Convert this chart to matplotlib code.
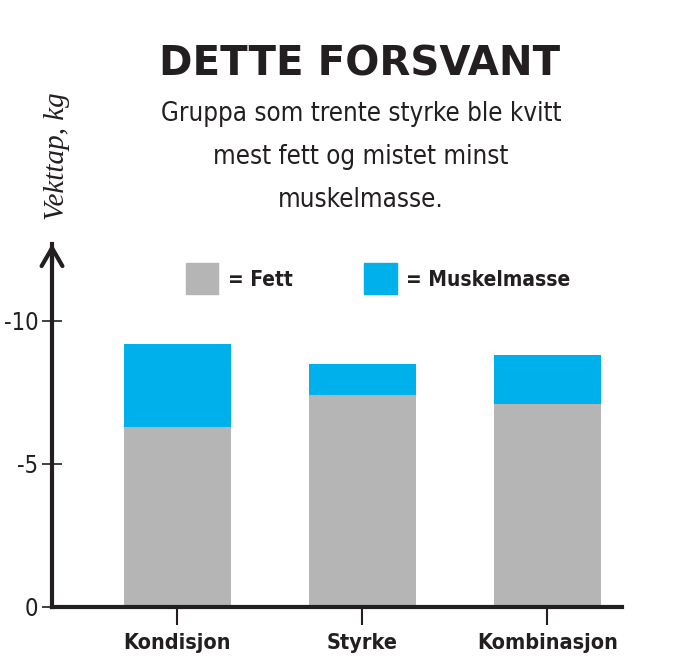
import matplotlib
matplotlib.use('Agg')
import matplotlib.pyplot as plt

# Data (kg lost, negative = loss)
groups = ['Kondisjon', 'Styrke', 'Kombinasjon']
fett = [-6.3, -7.4, -7.1]
muskelmasse = [-2.9, -1.1, -1.7]
y_ticks = [0, -5, -10]

grey = '#b5b5b5'
blue = '#00b0ea'
dark = '#231f20'
narrow = dict(family='DejaVu Sans', stretch='condensed')

fig = plt.figure(figsize=(6.9, 6.67), dpi=100)
ax = fig.add_axes([0.0754, 0.0904, 0.826, 0.544])

x = list(range(len(groups)))
ax.bar(x, fett, width=0.578, color=grey, zorder=1)
ax.bar(x, muskelmasse, bottom=fett, width=0.578, color=blue, zorder=1)

ax.set_xlim(-0.678, 2.403)
ax.set_ylim(0, -12.7)

for s in ['top', 'right']:
    ax.spines[s].set_visible(False)
for s in ['left', 'bottom']:
    ax.spines[s].set_linewidth(3)
    ax.spines[s].set_color(dark)
    ax.spines[s].set_zorder(3)

ax.set_xticks(x)
ax.set_xticklabels(groups, fontweight='bold', fontsize=15.5, color=dark, **narrow)
ax.tick_params(axis='x', direction='out', length=13, width=1.5, color=dark, pad=6)
ax.set_yticks(y_ticks)
ax.set_yticklabels([str(v) for v in y_ticks], fontsize=17, color=dark, **narrow)
ax.tick_params(axis='y', direction='inout', length=14, width=1.2, color=dark, pad=3)

# arrow head on the y axis
ax.annotate('', xy=(0, 1.0), xytext=(0, 0.95), xycoords='axes fraction',
            arrowprops=dict(arrowstyle='->,head_length=1.3,head_width=0.75',
                            lw=3, color=dark, shrinkA=0, shrinkB=0))

# legend built by hand
fig.patches.append(plt.Rectangle((186 / 690, 1 - 294 / 667), 32 / 690, 31 / 667,
                                 transform=fig.transFigure, color=grey))
fig.text(228 / 690, 1 - 280 / 667, '= Fett', fontweight='bold',
         fontsize=15, color=dark, va='center', **narrow)
fig.patches.append(plt.Rectangle((364 / 690, 1 - 294 / 667), 33 / 690, 31 / 667,
                                 transform=fig.transFigure, color=blue))
fig.text(406 / 690, 1 - 280 / 667, '= Muskelmasse', fontweight='bold',
         fontsize=15, color=dark, va='center', **narrow)

fig.text(360 / 690, 1 - 64 / 667, 'DETTE FORSVANT', family='DejaVu Sans',
         fontweight='bold', fontsize=29, color=dark, ha='center', va='center')
fig.text(361 / 690, 1 - 157 / 667,
         'Gruppa som trente styrke ble kvitt\nmest fett og mistet minst\nmuskelmasse.',
         fontsize=18.5, color=dark, ha='center', va='center',
         linespacing=1.85, **narrow)
fig.text(57 / 690, 1 - 156 / 667, 'Vekttap, kg', family=['Liberation Serif', 'DejaVu Serif'],
         style='italic', fontsize=21, color=dark, rotation=90, ha='center', va='center')

fig.savefig('out.png', dpi=100)
